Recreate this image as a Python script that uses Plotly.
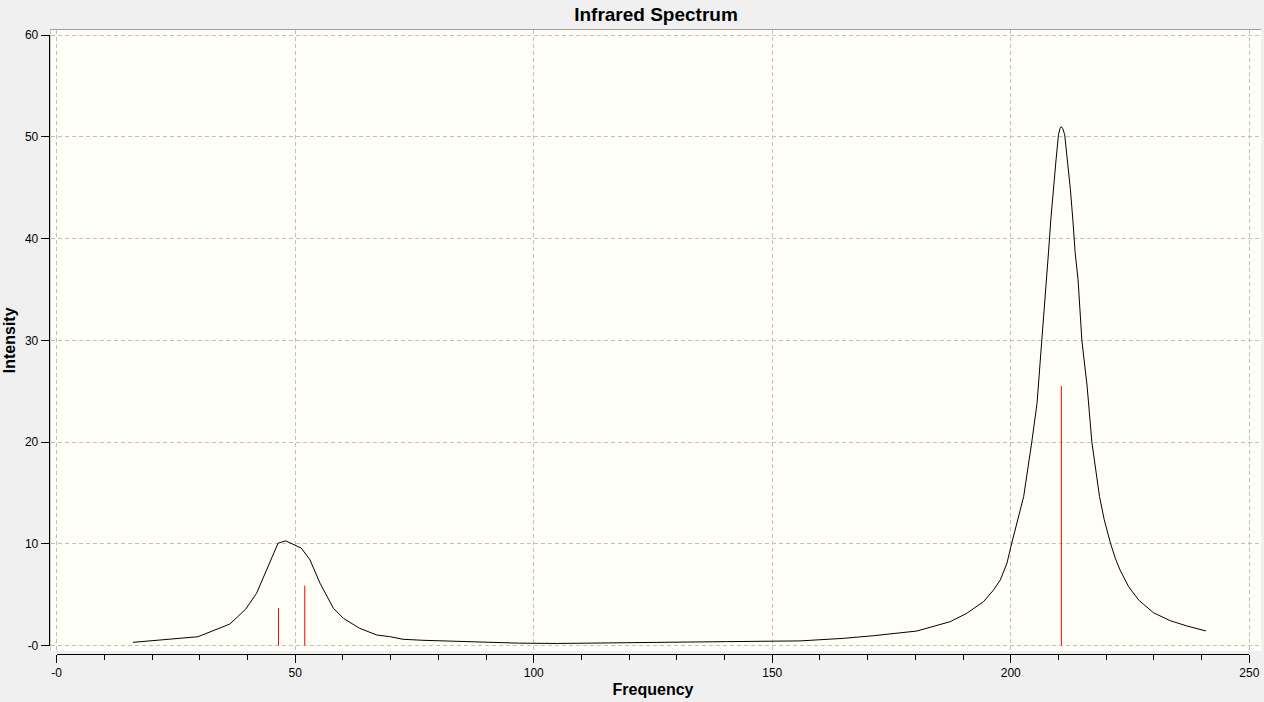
import plotly.graph_objects as go

# broadened IR spectrum
freq = [16.0, 22.0, 29.6, 36.3, 39.6, 41.9, 44.0, 46.4, 48.0, 51.3, 53.1, 55.2,
        58.0, 60.1, 63.5, 67.1, 69.8, 72.6, 76.8, 83.5, 90.1, 97.0, 105.0, 113.5,
        125.0, 140.4, 155.8, 164.9, 171.2, 180.3, 187.3, 190.8, 194.3, 196.4,
        197.8, 199.2, 200.2, 201.4, 202.7, 204.4, 205.5, 206.5, 207.2, 207.9,
        208.4, 208.9, 209.5, 210.0, 210.3, 210.6, 210.9, 211.3, 211.9, 212.5,
        213.0, 213.5, 214.1, 214.9, 216.0, 217.0, 218.6, 219.6, 220.9, 221.9,
        222.9, 224.7, 226.8, 229.9, 233.4, 236.9, 240.9]
inten = [0.33, 0.55, 0.88, 2.13, 3.58, 5.15, 7.44, 10.07, 10.3, 9.58, 8.43, 6.14,
         3.68, 2.69, 1.71, 1.05, 0.89, 0.63, 0.53, 0.43, 0.33, 0.25, 0.22, 0.28,
         0.33, 0.40, 0.47, 0.72, 0.98, 1.44, 2.36, 3.19, 4.33, 5.48,
         6.46, 8.10, 10.07, 12.36, 14.65, 20.0, 23.8, 30.0, 34.0, 38.6,
         41.9, 44.8, 47.8, 50.2, 50.8, 51.0, 50.8, 50.2, 47.8, 44.8,
         41.9, 38.6, 36.0, 30.0, 25.5, 20.0, 14.65, 12.36, 10.07, 8.6,
         7.44, 5.8, 4.49, 3.24, 2.46, 1.94, 1.45]

# computed modes (sticks)
stick_freq = [46.5, 52.0, 210.6]
stick_int = [3.7, 5.9, 25.5]

x_ticks = [0, 50, 100, 150, 200, 250]
x_labels = ["-0", "50", "100", "150", "200", "250"]
y_ticks = [0, 10, 20, 30, 40, 50, 60]
y_labels = ["-0", "10", "20", "30", "40", "50", "60"]

W, H = 1264, 702
ML, MR, MT, MB = 40, 3, 25, 40
pw, ph = W - ML - MR, H - MT - MB


def px_x(p):
    return (p - ML) / pw


def px_y(p):
    return (H - MB - p) / ph


# pixel positions measured on the reference
box_l, box_r, box_t, box_b = 51, 1261, 30, 651
x0_px, x250_px = 56.7, 1249.3
y0_px, y60_px = 645.7, 35.0
sx = (x250_px - x0_px) / 250
sy = (y0_px - y60_px) / 60

sx_list, sy_list = [], []
for f, i in zip(stick_freq, stick_int):
    sx_list += [f, f, None]
    sy_list += [0, i, None]

fig = go.Figure()
# invisible trace so the frame subplot exists
fig.add_trace(go.Scatter(x=[None], y=[None], showlegend=False, hoverinfo="skip"))
fig.add_trace(go.Scatter(x=sx_list, y=sy_list, mode="lines", xaxis="x2", yaxis="y2",
                         line=dict(color="#ff0000", width=1), showlegend=False))
fig.add_trace(go.Scatter(x=freq, y=inten, mode="lines", xaxis="x2", yaxis="y2",
                         line=dict(color="#000000", width=1), showlegend=False))

grid = dict(showgrid=True, gridcolor="#c0c0c0", griddash="4px,3px", gridwidth=1,
            zeroline=False, showticklabels=False, ticks="", automargin=False)
tickfont = dict(family="Liberation Sans, Arial", size=12, color="#000000")
titlefont = dict(family="Liberation Sans, Arial", size=16, color="#000000", weight="bold")

fig.update_layout(
    width=W, height=H, autosize=False,
    margin=dict(l=ML, r=MR, t=MT, b=MB, autoexpand=False),
    paper_bgcolor="#f0f0f0",
    plot_bgcolor="rgba(0,0,0,0)",
    showlegend=False,
    title=dict(text="Infrared Spectrum", x=656 / W, xref="container", xanchor="center",
               y=1 - 14 / H, yref="container", yanchor="middle",
               font=dict(family="Liberation Sans, Arial", size=19, color="#000000",
                         weight="bold")),
    xaxis=dict(grid, domain=[px_x(box_l), px_x(box_r)],
               range=[(box_l - x0_px) / sx, 250 + (box_r - x250_px) / sx],
               tickvals=x_ticks, showline=True, linecolor="#a0a0a0", side="top",
               anchor="y"),
    yaxis=dict(grid, domain=[px_y(box_b), px_y(box_t)],
               range=[-(box_b - y0_px) / sy, 60 + (y60_px - box_t) / sy],
               tickvals=y_ticks, showline=True, linecolor="#c8c8c8", anchor="x"),
    xaxis2=dict(domain=[px_x(x0_px), px_x(x250_px)], range=[0, 250],
                anchor="free", position=px_y(654), automargin=False,
                showgrid=False, zeroline=False, showline=True, linecolor="#000000",
                linewidth=1, ticks="outside", ticklen=8, tickcolor="#000000",
                tickvals=x_ticks, ticktext=x_labels, tickfont=tickfont,
                minor=dict(tickmode="linear", tick0=0, dtick=10, ticks="outside",
                           ticklen=5, tickcolor="#000000", showgrid=False),
                title=dict(text="Frequency", font=titlefont, standoff=4)),
    yaxis2=dict(domain=[px_y(y0_px), px_y(y60_px)], range=[0, 60],
                anchor="free", position=px_x(48.7), automargin=False,
                showgrid=False, zeroline=False, showline=True, linecolor="#000000",
                linewidth=1, ticks="outside", ticklen=8, tickcolor="#000000",
                tickvals=y_ticks, ticktext=y_labels, tickfont=tickfont,
                title=dict(text="Intensity", font=titlefont, standoff=4)),
    shapes=[dict(type="rect", xref="paper", yref="paper",
                 x0=px_x(box_l), x1=px_x(box_r), y0=px_y(box_b), y1=px_y(box_t),
                 fillcolor="#fffff8", line=dict(width=0), layer="below")],
)

# page margin off so the figure sits at the window corner
fig.write_html("out.html", config={"displayModeBar": False},
               post_script="document.body.style.margin='0';"
                           "document.body.style.overflow='hidden';")
